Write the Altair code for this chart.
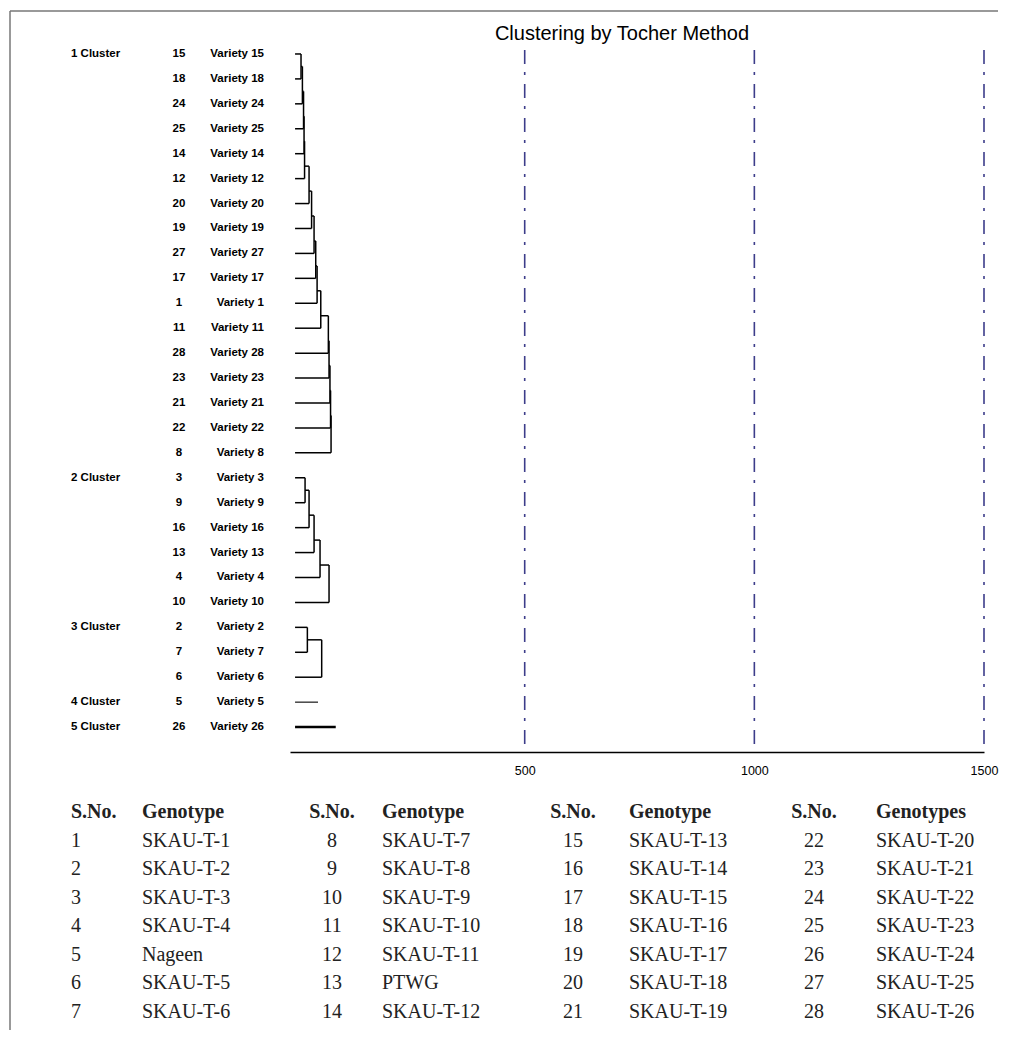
import altair as alt
import pandas as pd

# ---------------- data ----------------
cluster_names = ["1 Cluster", "2 Cluster", "3 Cluster", "4 Cluster", "5 Cluster"]
cluster_members = [
    [15, 18, 24, 25, 14, 12, 20, 19, 27, 17, 1, 11, 28, 23, 21, 22, 8],
    [3, 9, 16, 13, 4, 10],
    [2, 7, 6],
    [5],
    [26],
]
# successive joining distances inside each cluster (single-member clusters: stub length)
cluster_heights = [
    [13, 16, 18.5, 19.6, 20.7, 30.5, 36, 41.4, 45, 48, 56, 72.5, 74, 76, 77.3, 78.4],
    [21.8, 30.5, 41.4, 54.4, 74],
    [26.8, 58],
    [50],
    [88.6],
]
threshold_lines = [500, 1000, 1500]
x_ticks = [500, 1000, 1500]
title_text = "Clustering by Tocher Method"

table_sno = list(range(1, 29))
table_genotype = [
    "SKAU-T-1", "SKAU-T-2", "SKAU-T-3", "SKAU-T-4", "Nageen", "SKAU-T-5", "SKAU-T-6",
    "SKAU-T-7", "SKAU-T-8", "SKAU-T-9", "SKAU-T-10", "SKAU-T-11", "PTWG", "SKAU-T-12",
    "SKAU-T-13", "SKAU-T-14", "SKAU-T-15", "SKAU-T-16", "SKAU-T-17", "SKAU-T-18", "SKAU-T-19",
    "SKAU-T-20", "SKAU-T-21", "SKAU-T-22", "SKAU-T-23", "SKAU-T-24", "SKAU-T-25", "SKAU-T-26",
]
table_sno_header = ["S.No.", "S.No.", "S.No.", "S.No."]
table_gen_header = ["Genotype", "Genotype", "Genotype", "Genotypes"]

# ---------------- layout / style ----------------
SANS = "Liberation Sans, Arial, sans-serif"
SERIF = "Liberation Serif, Times New Roman, serif"
LINE_COLOR = "#3d3d8a"
W, H = 694, 707
TW, TH = 694, 240
SPACING = 38
ROWS_PER_COL = 7
SNO_X = [72, 333, 574, 815]      # anchor of S.No. columns (page px)
GEN_X = [143, 383, 630, 877]     # left edge of genotype columns (page px)

# ---------------- dendrogram geometry from the data ----------------
leaf_rows = []
segs = []
r = 0
for ci, (members, heights) in enumerate(zip(cluster_members, cluster_heights)):
    rows = []
    for j, m in enumerate(members):
        leaf_rows.append({"row": r, "num": str(m), "label": f"Variety {m}",
                          "cluster": cluster_names[ci] if j == 0 else ""})
        rows.append(r)
        r += 1
    w = 2.4 if ci == 4 else 1.5
    if ci == 3:
        w = 1.1
    if len(members) == 1:
        segs.append({"x": 0, "x2": heights[0], "y": rows[0], "y2": rows[0], "w": w})
        continue
    node_y, node_h = rows[0], 0
    for k in range(1, len(members)):
        hk, yk = heights[k - 1], rows[k]
        segs.append({"x": node_h, "x2": hk, "y": node_y, "y2": node_y, "w": w})
        segs.append({"x": 0, "x2": hk, "y": yk, "y2": yk, "w": w})
        segs.append({"x": hk, "x2": hk, "y": node_y, "y2": yk, "w": w})
        node_y = (rows[k - 1] + yk) / 2
        node_h = hk

leaf_df = pd.DataFrame(leaf_rows)
seg_df = pd.DataFrame(segs)
thr_df = pd.DataFrame({"t": threshold_lines})

xscale = alt.Scale(domain=[-11, 1500], nice=False, zero=False)
yscale = alt.Scale(domain=[-0.36, 28], nice=False, zero=False, reverse=True)

xaxis = alt.Axis(values=x_ticks, grid=False, ticks=False, title=None, labelFlush=False,
                 domainColor="black", domainWidth=1.3, labelFont=SANS, labelFontSize=12.5,
                 labelColor="black", labelPadding=12, format="d")

dendro = alt.Chart(seg_df).mark_rule(color="black").encode(
    x=alt.X("x:Q", scale=xscale, axis=xaxis),
    x2="x2:Q",
    y=alt.Y("y:Q", scale=yscale, axis=None),
    y2="y2:Q",
    strokeWidth=alt.StrokeWidth("w:Q", scale=None),
)

thr = alt.Chart(thr_df).mark_rule(color=LINE_COLOR, strokeWidth=1.6, strokeDash=[14, 8, 3, 9]).encode(
    x=alt.X("t:Q", scale=xscale),
    y=alt.value(5),
    y2=alt.value(H),
)

label_style = dict(baseline="middle", font=SANS, fontWeight="bold", fontSize=11.5, color="black")
clabel = alt.Chart(leaf_df).mark_text(align="left", **label_style).encode(
    x=alt.value(-219), y=alt.Y("row:Q", scale=yscale), text="cluster:N")
nlabel = alt.Chart(leaf_df).mark_text(align="center", **label_style).encode(
    x=alt.value(-111), y=alt.Y("row:Q", scale=yscale), text="num:N")
vlabel = alt.Chart(leaf_df).mark_text(align="right", **label_style).encode(
    x=alt.value(-26), y=alt.Y("row:Q", scale=yscale), text="label:N")

top = alt.layer(thr, dendro, clabel, nlabel, vlabel).properties(
    width=W, height=H,
    title=alt.TitleParams(title_text, font=SANS, fontSize=20, fontWeight="normal",
                          anchor="middle", dx=-15, dy=22, offset=3, baseline="bottom",
                          color="black"),
)

# ---------------- genotype key table ----------------
hdr_left, hdr_center, body_left, body_center = [], [], [], []
for g in range(4):
    if g == 0:
        hdr_left.append({"tx": SNO_X[g], "ty": 0, "txt": table_sno_header[g]})
    else:
        hdr_center.append({"tx": SNO_X[g], "ty": 0, "txt": table_sno_header[g]})
    hdr_left.append({"tx": GEN_X[g], "ty": 0, "txt": table_gen_header[g]})
    for rr in range(ROWS_PER_COL):
        i = g * ROWS_PER_COL + rr
        rec = {"tx": SNO_X[g], "ty": rr + 1, "txt": str(table_sno[i])}
        (body_left if g == 0 else body_center).append(rec)
        body_left.append({"tx": GEN_X[g], "ty": rr + 1, "txt": table_genotype[i]})

txs = alt.Scale(domain=[291, 291 + TW], nice=False, zero=False)
tys = alt.Scale(domain=[-0.772, 7.649], nice=False, zero=False, reverse=True)


def tlayer(rows, align, weight):
    return alt.Chart(pd.DataFrame(rows)).mark_text(
        align=align, baseline="middle", font=SERIF, fontSize=20, fontWeight=weight,
        color="#222222").encode(
        x=alt.X("tx:Q", scale=txs, axis=None),
        y=alt.Y("ty:Q", scale=tys, axis=None),
        text="txt:N")


# page frame (top and left border lines), relative to the table panel origin
one = pd.DataFrame({"a": [0]})
frame_y0 = -(H + SPACING + 34)
frame_top = alt.Chart(one).mark_rule(color="#777777", strokeWidth=1.5).encode(
    x=alt.value(-280), x2=alt.value(708), y=alt.value(frame_y0))
frame_left = alt.Chart(one).mark_rule(color="#777777", strokeWidth=1.5).encode(
    x=alt.value(-280), y=alt.value(frame_y0), y2=alt.value(TH))

table = alt.layer(
    tlayer(hdr_left, "left", "bold"),
    tlayer(hdr_center, "center", "bold"),
    tlayer(body_left, "left", "normal"),
    tlayer(body_center, "center", "normal"),
    frame_top, frame_left,
).properties(width=TW, height=TH)

chart = alt.vconcat(top, table, spacing=SPACING, bounds="flush").resolve_scale(
    x="independent", y="independent"
).properties(
    padding={"left": 1, "top": 2, "right": 0, "bottom": 0}, background="white"
).configure_view(strokeWidth=0)

chart.save("out.html", embed_options={"renderer": "svg", "actions": False})
